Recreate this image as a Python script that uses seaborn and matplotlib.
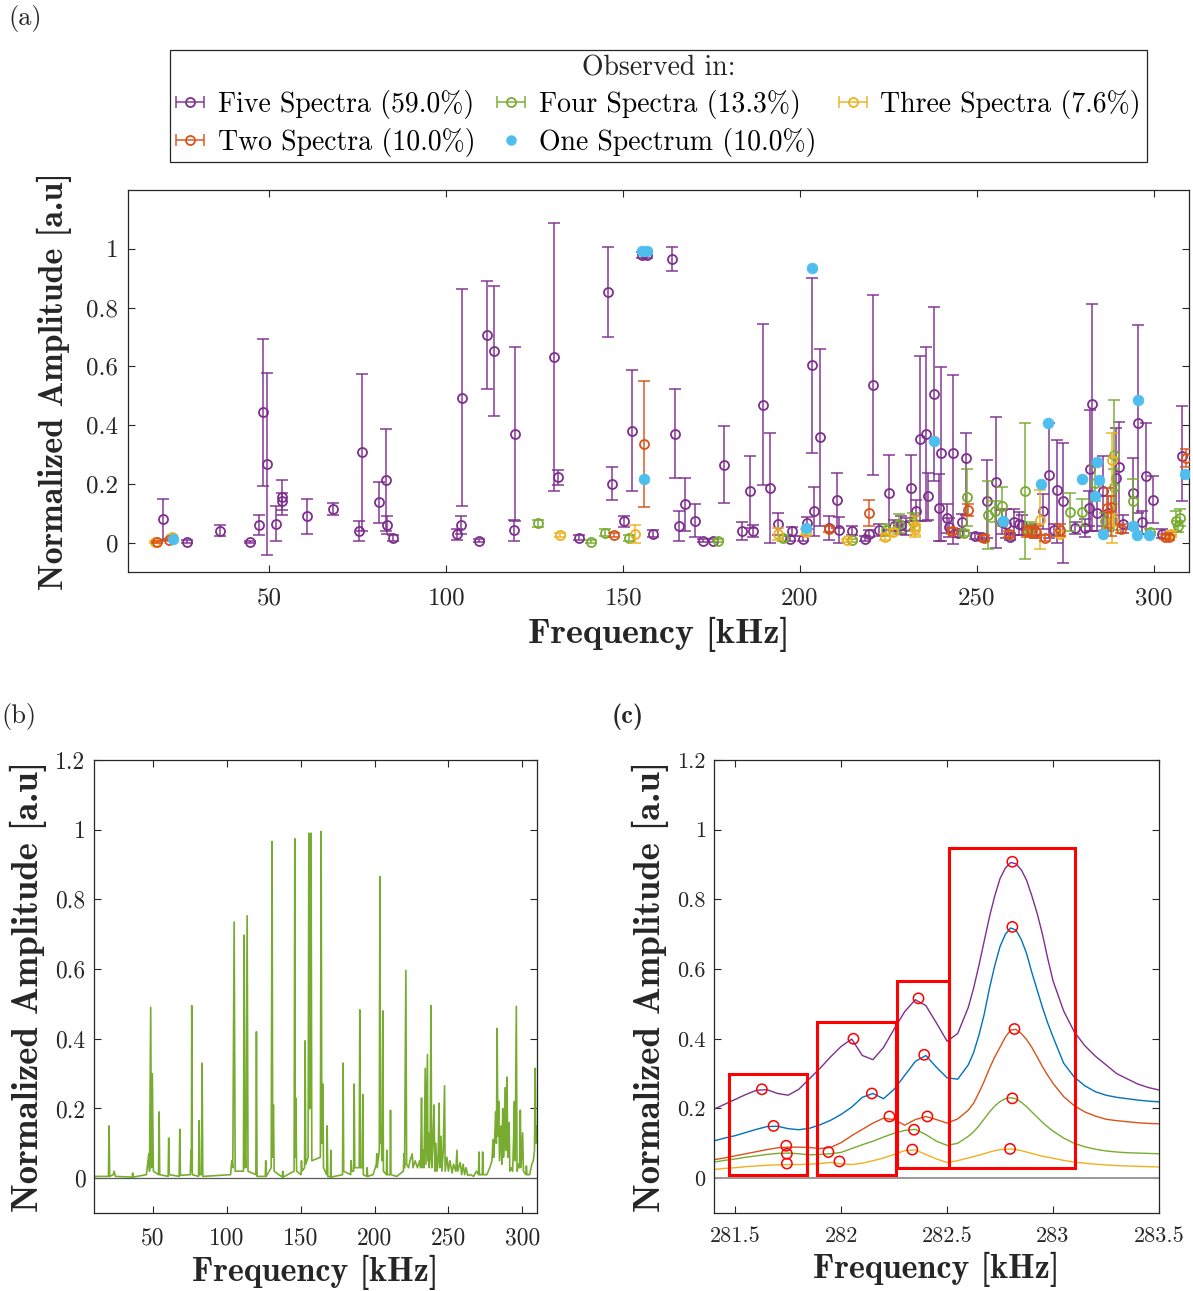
import numpy as np
import pandas as pd
import matplotlib
matplotlib.use("Agg")
import matplotlib.pyplot as plt
import seaborn as sns
from matplotlib.container import ErrorbarContainer
from matplotlib.lines import Line2D
from matplotlib.patches import Rectangle

# ---------------- DATA : panel (a) ----------------
# Five spectra (purple)
five_f = [20.0, 26.6, 36.0, 44.5, 47.1, 48.2, 49.2, 51.9, 53.6, 53.6, 60.7, 68.1, 75.3, 76.1, 80.9, 83.0,
          83.3, 84.9, 103.0, 104.2, 104.3, 109.2, 111.5, 113.4, 119.5, 119.1, 130.4, 131.5, 137.6, 145.7,
          146.8, 150.2, 152.6, 155.2, 156.8, 158.5, 163.7, 164.8, 165.8, 167.5, 170.2, 172.6, 175.5, 178.4,
          183.7, 185.8, 186.8, 189.6, 191.5, 193.7, 197.1, 197.7, 200.9, 202.1, 203.5, 204.0, 205.6, 208.1,
          210.6, 211.0, 214.8, 218.4, 219.4, 220.7, 222.4, 225.1, 226.7, 228.6, 230.1, 231.4, 232.7, 234.0,
          235.6, 236.1, 237.9, 239.2, 239.8, 241.6, 242.1, 243.2, 244.8, 245.7, 247.0, 249.6, 251.5, 252.9,
          255.5, 257.0, 258.2, 259.3, 260.5, 261.8, 262.7, 266.5, 268.8, 270.3, 271.7, 272.8, 274.3, 277.8,
          280.5, 281.6, 282.1, 282.5, 284.1, 285.8, 287.2, 289.4, 290.1, 291.3, 294.1, 295.5, 296.6, 297.8,
          299.7, 302.3, 308.0]
five_a = [0.080, 0.003, 0.041, 0.002, 0.060, 0.444, 0.267, 0.064, 0.154, 0.140, 0.089, 0.115, 0.040, 0.307, 0.137, 0.213,
          0.060, 0.017, 0.028, 0.060, 0.493, 0.006, 0.706, 0.652, 0.368, 0.042, 0.631, 0.222, 0.017, 0.853,
          0.201, 0.072, 0.381, 0.980, 0.980, 0.031, 0.966, 0.371, 0.057, 0.131, 0.075, 0.007, 0.007, 0.265,
          0.040, 0.174, 0.040, 0.470, 0.185, 0.064, 0.013, 0.038, 0.013, 0.066, 0.605, 0.106, 0.358, 0.050,
          0.146, 0.043, 0.040, 0.013, 0.030, 0.535, 0.043, 0.168, 0.058, 0.060, 0.055, 0.187, 0.106, 0.354,
          0.368, 0.157, 0.505, 0.119, 0.304, 0.083, 0.052, 0.304, 0.032, 0.069, 0.288, 0.024, 0.020, 0.140,
          0.205, 0.070, 0.065, 0.020, 0.070, 0.065, 0.060, 0.040, 0.106, 0.229, 0.043, 0.180, 0.140, 0.049,
          0.050, 0.117, 0.251, 0.472, 0.100, 0.176, 0.100, 0.219, 0.259, 0.063, 0.168, 0.407, 0.069, 0.228,
          0.146, 0.030, 0.296]
five_lo = [0.070, 0.005, 0.020, 0.004, 0.035, 0.250, 0.309, 0.057, 0.060, 0.030, 0.060, 0.020, 0.035, 0.269, 0.070, 0.175,
           0.030, 0.010, 0.020, 0.030, 0.370, 0.005, 0.182, 0.222, 0.296, 0.035, 0.455, 0.025, 0.008, 0.153,
           0.055, 0.020, 0.207, 0.010, 0.010, 0.012, 0.040, 0.151, 0.050, 0.090, 0.055, 0.006, 0.006, 0.131,
           0.030, 0.125, 0.020, 0.275, 0.187, 0.038, 0.008, 0.015, 0.008, 0.020, 0.300, 0.083, 0.301, 0.040,
           0.097, 0.045, 0.015, 0.008, 0.012, 0.305, 0.020, 0.125, 0.020, 0.030, 0.030, 0.115, 0.034, 0.282,
           0.296, 0.080, 0.297, 0.113, 0.298, 0.050, 0.033, 0.310, 0.012, 0.030, 0.194, 0.010, 0.010, 0.125,
           0.224, 0.040, 0.050, 0.012, 0.045, 0.040, 0.035, 0.025, 0.060, 0.212, 0.020, 0.180, 0.208, 0.020,
           0.030, 0.060, 0.213, 0.434, 0.060, 0.120, 0.060, 0.160, 0.200, 0.030, 0.120, 0.307, 0.040, 0.200,
           0.080, 0.015, 0.155]
five_hi = [0.068, 0.005, 0.020, 0.004, 0.035, 0.250, 0.310, 0.059, 0.060, 0.030, 0.060, 0.020, 0.035, 0.267, 0.070, 0.174,
           0.030, 0.010, 0.020, 0.030, 0.371, 0.005, 0.185, 0.222, 0.299, 0.035, 0.455, 0.025, 0.008, 0.154,
           0.055, 0.020, 0.206, 0.010, 0.010, 0.012, 0.040, 0.153, 0.050, 0.090, 0.055, 0.006, 0.006, 0.133,
           0.030, 0.120, 0.020, 0.275, 0.188, 0.038, 0.008, 0.015, 0.008, 0.020, 0.297, 0.083, 0.302, 0.040,
           0.091, 0.045, 0.015, 0.008, 0.012, 0.306, 0.020, 0.130, 0.020, 0.030, 0.030, 0.111, 0.040, 0.281,
           0.297, 0.080, 0.297, 0.114, 0.293, 0.050, 0.033, 0.266, 0.012, 0.030, 0.085, 0.010, 0.010, 0.142,
           0.224, 0.040, 0.050, 0.012, 0.045, 0.040, 0.035, 0.025, 0.060, 0.178, 0.020, 0.170, 0.199, 0.020,
           0.030, 0.060, 0.200, 0.339, 0.060, 0.120, 0.060, 0.170, 0.150, 0.030, 0.120, 0.334, 0.040, 0.180,
           0.080, 0.015, 0.170]

# Four spectra (green)
four_f = [125.9, 140.8, 144.9, 151.7, 176.9, 195.2, 214.6, 224.4, 228.0, 232.0, 246.4, 247.3, 253.2, 255.2,
          257.1, 263.6, 265.0, 276.3, 279.8, 283.5, 286.3, 288.7, 288.8, 294.3, 299.0, 306.3, 306.9, 307.5]
four_a = [0.066, 0.003, 0.034, 0.015, 0.007, 0.017, 0.008, 0.043, 0.063, 0.070, 0.032, 0.155, 0.094, 0.106,
          0.123, 0.174, 0.050, 0.103, 0.103, 0.203, 0.072, 0.299, 0.190, 0.140, 0.035, 0.072, 0.055, 0.085]
four_lo = [0.012, 0.006, 0.012, 0.010, 0.006, 0.010, 0.006, 0.020, 0.030, 0.030, 0.010, 0.100, 0.117, 0.035,
           0.065, 0.230, 0.020, 0.065, 0.045, 0.060, 0.030, 0.256, 0.060, 0.077, 0.010, 0.035, 0.020, 0.030]
four_hi = [0.012, 0.006, 0.012, 0.010, 0.006, 0.010, 0.006, 0.020, 0.033, 0.030, 0.010, 0.095, 0.114, 0.035,
           0.065, 0.233, 0.020, 0.065, 0.045, 0.060, 0.030, 0.188, 0.060, 0.077, 0.010, 0.035, 0.020, 0.030]

# Three spectra (yellow)
three_f = [17.5, 22.5, 132.1, 153.3, 193.9, 201.6, 213.3, 224.1, 226.2, 232.4, 232.5, 268.0, 273.6, 288.2, 288.5, 304.9]
three_a = [0.003, 0.020, 0.026, 0.029, 0.029, 0.035, 0.008, 0.020, 0.035, 0.055, 0.045, 0.077, 0.030, 0.282, 0.077, 0.030]
three_lo = [0.004, 0.005, 0.008, 0.030, 0.020, 0.010, 0.006, 0.010, 0.010, 0.035, 0.020, 0.100, 0.010, 0.284, 0.020, 0.010]
three_hi = [0.004, 0.005, 0.008, 0.030, 0.020, 0.010, 0.006, 0.010, 0.010, 0.035, 0.020, 0.103, 0.010, 0.091, 0.020, 0.010]

# Two spectra (red)
two_f = [18.3, 21.5, 147.4, 155.9, 208.1, 219.4, 243.0, 247.5, 252.1, 259.0, 264.2, 265.6, 266.8, 269.3,
         273.6, 286.8, 287.9, 290.7, 303.3, 304.4, 309.1]
two_a = [0.002, 0.010, 0.026, 0.336, 0.045, 0.100, 0.040, 0.111, 0.017, 0.030, 0.038, 0.038, 0.035, 0.017,
         0.042, 0.117, 0.122, 0.047, 0.020, 0.018, 0.288]
two_lo = [0.004, 0.004, 0.008, 0.216, 0.010, 0.045, 0.010, 0.020, 0.010, 0.010, 0.020, 0.020, 0.020, 0.010,
          0.020, 0.068, 0.100, 0.015, 0.008, 0.008, 0.032]
two_hi = [0.004, 0.004, 0.008, 0.214, 0.010, 0.045, 0.010, 0.020, 0.010, 0.010, 0.020, 0.020, 0.020, 0.010,
          0.020, 0.068, 0.035, 0.015, 0.008, 0.008, 0.032]

# One spectrum (light blue, no error bar)
one_f = [22.6, 155.2, 156.8, 155.9, 201.6, 203.5, 238.0, 257.3, 268.2, 270.0, 279.8, 283.5, 284.0, 284.5,
         285.8, 294.3, 295.5, 295.2, 298.8, 309.0]
one_a = [0.013, 0.991, 0.991, 0.216, 0.049, 0.934, 0.347, 0.074, 0.199, 0.408, 0.216, 0.157, 0.275, 0.212,
         0.030, 0.055, 0.487, 0.026, 0.026, 0.233]

legend_labels = ["Five Spectra (59.0%)", "Four Spectra (13.3%)", "Three Spectra (7.6%)",
                 "Two Spectra (10.0%)", "One Spectrum (10.0%)"]
legend_title = "Observed in:"

# ---------------- DATA : panel (b) spectrum vertices ----------------
spec_f = [10, 19.8, 20.2, 20.6, 23.0, 23.6, 24.5, 35.8, 36.2, 36.6, 45.5, 47.1, 47.6, 48.4, 48.9, 49.5, 50.2,
          53.7, 54.1, 54.5, 60.2, 60.6, 61.0, 67.7, 68.1, 68.5, 75.2, 75.7, 75.95, 76.2, 76.6, 80.8, 81.2, 81.6,
          82.8, 83.2, 83.7, 102.5, 103.3, 104.0, 104.9, 105.6, 111.2, 111.7, 112.1, 112.4, 112.9, 113.7, 114.3,
          119.6, 120.0, 120.4, 126.0, 126.3, 126.6, 130.0, 130.6, 131.0, 131.5, 132.0, 137.5, 137.8, 138.1,
          145.5, 146.0, 146.3, 146.7, 147.2, 150.2, 150.5, 150.8, 152.6, 153.0, 153.4, 155.0, 155.5, 156.0,
          156.5, 157.0, 157.5, 163.3, 163.8, 164.3, 165.0, 165.4, 167.6, 167.9, 168.3, 170.1, 170.4, 170.7,
          178.3, 178.7, 179.1, 183.8, 184.1, 184.5, 185.8, 186.2, 186.6, 189.6, 190.0, 190.4, 191.6, 192.0,
          192.4, 194.7, 195.0, 195.3, 199.0, 201.2, 201.5, 201.8, 203.2, 203.6, 204.0, 204.5, 205.0, 205.6,
          206.0, 208.0, 208.3, 208.6, 210.5, 210.8, 211.1, 215.0, 219.5, 219.9, 220.3, 221.2, 221.7, 223.0,
          224.0, 225.5, 226.0, 227.5, 229.0, 230.5, 231.2, 231.8, 232.3, 233.0, 233.5, 234.3, 234.8, 235.8,
          236.1, 236.5, 236.9, 237.6, 238.2, 238.7, 239.5, 240.3, 240.8, 241.5, 242.2, 243.0, 243.7, 244.1,
          245.0, 245.6, 246.5, 247.4, 247.8, 249.0, 250.0, 251.0, 252.5, 253.5, 255.0, 255.8, 256.3, 257.0,
          258.0, 259.0, 260.0, 261.0, 262.0, 263.0, 265.0, 267.0, 269.0, 270.4, 270.7, 271.0, 272.9, 273.2,
          273.5, 276.0, 278.0, 279.5, 280.2, 280.7, 281.5, 282.0, 282.5, 283.0, 283.5, 284.1, 284.6, 285.5,
          286.2, 286.8, 287.3, 288.0, 288.6, 289.1, 289.7, 290.2, 291.1, 291.6, 292.5, 293.5, 294.2, 294.7,
          295.2, 296.0, 296.5, 297.5, 298.2, 298.7, 299.2, 300.3, 300.8, 302.5, 302.8, 303.2, 305.0, 306.5,
          307.5, 308.3, 308.8, 309.2, 309.5, 310.0]
spec_a = [0.005, 0.005, 0.15, 0.005, 0.01, 0.02, 0.005, 0.003, 0.015, 0.003, 0.01, 0.07, 0.02, 0.49, 0.03, 0.30, 0.02,
          0.01, 0.19, 0.01, 0.005, 0.115, 0.01, 0.005, 0.14, 0.008, 0.01, 0.08, 0.02, 0.495, 0.01, 0.005, 0.165, 0.01,
          0.01, 0.33, 0.005, 0.01, 0.05, 0.03, 0.735, 0.02, 0.02, 0.697, 0.03, 0.06, 0.03, 0.753, 0.02,
          0.01, 0.42, 0.005, 0.005, 0.05, 0.005, 0.03, 0.966, 0.06, 0.21, 0.02, 0.003, 0.02, 0.003,
          0.02, 0.974, 0.06, 0.23, 0.02, 0.01, 0.05, 0.02, 0.03, 0.394, 0.04, 0.06, 0.99, 0.2,
          0.2, 0.99, 0.05, 0.06, 0.995, 0.1, 0.27, 0.03, 0.01, 0.15, 0.005, 0.003, 0.08, 0.003,
          0.01, 0.33, 0.02, 0.01, 0.05, 0.02, 0.02, 0.27, 0.03, 0.03, 0.483, 0.03, 0.03, 0.24,
          0.01, 0.005, 0.03, 0.005, 0.01, 0.04, 0.07, 0.03, 0.08, 0.865, 0.1, 0.15, 0.05, 0.48,
          0.02, 0.01, 0.08, 0.01, 0.01, 0.195, 0.01, 0.005, 0.02, 0.07, 0.03, 0.596, 0.04, 0.03,
          0.05, 0.07, 0.03, 0.05, 0.03, 0.05, 0.03, 0.23, 0.03, 0.08, 0.03, 0.315, 0.04, 0.355,
          0.05, 0.13, 0.03, 0.06, 0.495, 0.03, 0.10, 0.21, 0.02, 0.10, 0.02, 0.05, 0.215, 0.03,
          0.12, 0.02, 0.08, 0.265, 0.02, 0.06, 0.02, 0.05, 0.015, 0.04, 0.02, 0.08, 0.02, 0.03,
          0.045, 0.01, 0.04, 0.01, 0.03, 0.008, 0.01, 0.005, 0.02, 0.01, 0.075, 0.01, 0.01, 0.075,
          0.01, 0.01, 0.03, 0.05, 0.11, 0.06, 0.13, 0.19, 0.10, 0.43, 0.12, 0.22, 0.05, 0.15,
          0.04, 0.20, 0.06, 0.12, 0.26, 0.08, 0.29, 0.06, 0.16, 0.02, 0.03, 0.02, 0.12, 0.22,
          0.05, 0.493, 0.02, 0.04, 0.03, 0.195, 0.03, 0.13, 0.02, 0.01, 0.035, 0.01, 0.01, 0.04,
          0.05, 0.08, 0.315, 0.10, 0.15, 0.12]

# ---------------- DATA : panel (c) ----------------
c_freq = [281.40, 281.45, 281.50, 281.55, 281.60, 281.65, 281.70, 281.75, 281.80, 281.85, 281.90, 281.95,
          282.00, 282.05, 282.10, 282.15, 282.20, 282.25, 282.30, 282.35, 282.40, 282.45, 282.50, 282.55,
          282.60, 282.625, 282.65, 282.675, 282.70, 282.725, 282.75, 282.775, 282.80, 282.825, 282.85,
          282.875, 282.90, 282.925, 282.95, 282.975, 283.00, 283.05, 283.10, 283.15,
          283.20, 283.25, 283.30, 283.35, 283.40, 283.45, 283.50]
c_purple = [0.198, 0.212, 0.226, 0.240, 0.252, 0.254, 0.243, 0.238, 0.255, 0.285, 0.315, 0.348,
            0.378, 0.399, 0.352, 0.340, 0.375, 0.428, 0.478, 0.512, 0.495, 0.445, 0.393, 0.415,
            0.490, 0.545, 0.610, 0.680, 0.750, 0.810, 0.860, 0.890, 0.906, 0.902, 0.885,
            0.855, 0.810, 0.760, 0.700, 0.630, 0.566, 0.480, 0.420, 0.380,
            0.350, 0.325, 0.300, 0.285, 0.270, 0.260, 0.253]
c_blue = [0.107, 0.115, 0.122, 0.131, 0.140, 0.148, 0.149, 0.142, 0.139, 0.143, 0.153, 0.166,
          0.183, 0.204, 0.232, 0.243, 0.228, 0.255, 0.295, 0.335, 0.352, 0.318, 0.288, 0.284,
          0.325, 0.360, 0.410, 0.470, 0.545, 0.610, 0.665, 0.700, 0.718, 0.712, 0.685,
          0.645, 0.590, 0.540, 0.490, 0.445, 0.405, 0.330, 0.290, 0.265,
          0.248, 0.238, 0.232, 0.228, 0.224, 0.221, 0.219]
c_red = [0.053, 0.058, 0.064, 0.070, 0.076, 0.082, 0.087, 0.089, 0.089, 0.088, 0.085, 0.088,
         0.102, 0.122, 0.140, 0.158, 0.172, 0.168, 0.152, 0.168, 0.177, 0.168, 0.158, 0.170,
         0.195, 0.215, 0.245, 0.278, 0.315, 0.348, 0.376, 0.405, 0.425, 0.427, 0.415,
         0.398, 0.375, 0.348, 0.320, 0.295, 0.272, 0.234, 0.208, 0.190,
         0.178, 0.169, 0.165, 0.162, 0.159, 0.157, 0.156]
c_green = [0.046, 0.051, 0.055, 0.060, 0.064, 0.068, 0.071, 0.072, 0.070, 0.067, 0.068, 0.070,
           0.074, 0.085, 0.096, 0.106, 0.118, 0.129, 0.137, 0.140, 0.125, 0.106, 0.094, 0.100,
           0.120, 0.133, 0.150, 0.170, 0.190, 0.207, 0.220, 0.228, 0.231, 0.228, 0.218,
           0.205, 0.190, 0.175, 0.160, 0.147, 0.135, 0.115, 0.100, 0.090,
           0.083, 0.078, 0.075, 0.073, 0.072, 0.071, 0.070]
c_yellow = [0.025, 0.028, 0.030, 0.033, 0.035, 0.037, 0.038, 0.039, 0.039, 0.040, 0.042, 0.045,
            0.041, 0.039, 0.043, 0.050, 0.058, 0.068, 0.079, 0.081, 0.068, 0.055, 0.045, 0.050,
            0.058, 0.062, 0.066, 0.070, 0.075, 0.079, 0.082, 0.083, 0.084, 0.082, 0.079,
            0.075, 0.071, 0.067, 0.063, 0.060, 0.057, 0.051, 0.046, 0.043,
            0.040, 0.038, 0.036, 0.035, 0.034, 0.033, 0.032]
peak_f = [281.626, 281.681, 281.741, 281.744, 281.744, 281.940, 281.992, 282.058, 282.145, 282.228,
          282.344, 282.336, 282.365, 282.392, 282.407, 282.808, 282.808, 282.818, 282.808, 282.797]
peak_a = [0.255, 0.150, 0.093, 0.070, 0.042, 0.075, 0.048, 0.400, 0.243, 0.177,
          0.139, 0.082, 0.516, 0.354, 0.177, 0.908, 0.721, 0.428, 0.229, 0.084]
# boxes: (f_start, f_end, a_bottom, a_top)
box_f0 = [281.469, 281.888, 282.263, 282.511]
box_f1 = [281.838, 282.259, 282.511, 283.105]
box_a0 = [0.008, 0.008, 0.028, 0.028]
box_a1 = [0.300, 0.449, 0.566, 0.948]

# ticks
a_xticks = [50, 100, 150, 200, 250, 300]
a_yticks = [0, 0.2, 0.4, 0.6, 0.8, 1]
a_yticklabels = ["0", "0.2", "0.4", "0.6", "0.8", "1"]
bc_yticks = [0, 0.2, 0.4, 0.6, 0.8, 1, 1.2]
bc_yticklabels = ["0", "0.2", "0.4", "0.6", "0.8", "1", "1.2"]
b_xticks = [50, 100, 150, 200, 250, 300]
c_xticks = [281.5, 282, 282.5, 283, 283.5]
c_xticklabels = ["281.5", "282", "282.5", "283", "283.5"]

# ---------------- STYLE ----------------
PURPLE = "#7E2F8E"
GREEN = "#77AC30"
YELLOW = "#EDB120"
RED = "#D95319"
LBLUE = "#4DBEEE"
BLUE = "#0072BD"
EDGE = "#262626"

sns.set_theme(style="ticks")
plt.rcParams.update({
    "font.family": ["cmr10", "DejaVu Serif"],
    "axes.formatter.use_mathtext": True,
    "axes.unicode_minus": False,
    "xtick.direction": "in", "ytick.direction": "in",
    "xtick.top": True, "ytick.right": True,
    "axes.edgecolor": EDGE, "axes.linewidth": 0.9,
    "xtick.color": EDGE, "ytick.color": EDGE,
    "xtick.labelcolor": EDGE, "ytick.labelcolor": EDGE,
    "xtick.major.size": 5, "ytick.major.size": 5,
    "xtick.major.width": 0.8, "ytick.major.width": 0.8,
})

W, H = 11.93, 12.91
fig = plt.figure(figsize=(W, H), dpi=100)
axA = fig.add_axes([128 / 1193, 1 - 572 / 1291, (1189 - 128) / 1193, (572 - 190) / 1291])
axB = fig.add_axes([94 / 1193, 1 - 1213 / 1291, (537 - 94) / 1193, (1213 - 760) / 1291])
axC = fig.add_axes([714 / 1193, 1 - 1213 / 1291, (1159 - 714) / 1193, (1213 - 760) / 1291])

LABEL_B = dict(family="cmb10", color=EDGE)

# ---------------- PANEL (a) ----------------
def draw_err(ax, f, a, lo, hi, color, z):
    c = ax.errorbar(f, a, yerr=[lo, hi], fmt="o", ms=6.5, mfc="none", mec=color, mew=1.3,
                    ecolor=color, elinewidth=1.3, capsize=4.5, capthick=1.3, zorder=z)
    for b in c[2]:
        b.set_alpha(0.8)
    for cl in c[1]:
        cl.set_alpha(0.8)
    return c

cont_five = draw_err(axA, five_f, five_a, five_lo, five_hi, PURPLE, 2)
cont_four = draw_err(axA, four_f, four_a, four_lo, four_hi, GREEN, 3)
cont_three = draw_err(axA, three_f, three_a, three_lo, three_hi, YELLOW, 4)
cont_two = draw_err(axA, two_f, two_a, two_lo, two_hi, RED, 5)
df_one = pd.DataFrame({"f": one_f, "a": one_a})
sns.scatterplot(data=df_one, x="f", y="a", ax=axA, color=LBLUE, s=60, edgecolor=LBLUE,
                linewidth=0.5, zorder=6, legend=False)

axA.set_xlim(10, 310)
axA.set_ylim(-0.1, 1.2)
axA.set_xticks(a_xticks)
axA.set_xticklabels([str(t) for t in a_xticks])
axA.set_yticks(a_yticks)
axA.set_yticklabels(a_yticklabels)
axA.tick_params(labelsize=18, pad=7)
axA.tick_params(axis="x", pad=11)
axA.set_xlabel("Frequency [kHz]", fontsize=26, labelpad=5, **LABEL_B)
axA.set_ylabel("Normalized Amplitude [a.u]", fontsize=24.5, labelpad=10, **LABEL_B)

def as_xerr(c, lab):
    return ErrorbarContainer(c.lines, has_xerr=True, has_yerr=False, label=lab)

h_five = as_xerr(cont_five, legend_labels[0])
h_four = as_xerr(cont_four, legend_labels[1])
h_three = as_xerr(cont_three, legend_labels[2])
h_two = as_xerr(cont_two, legend_labels[3])
h_one = Line2D([], [], marker="o", linestyle="none", color=LBLUE, mec=LBLUE, ms=6.5)

handles = [h_five, h_two, h_four, h_one, h_three]
labels = [legend_labels[0], legend_labels[3], legend_labels[1], legend_labels[4], legend_labels[2]]
leg = fig.legend(handles, labels, loc="upper center", bbox_to_anchor=(658.5 / 1193, 1 - 50 / 1291),
                 ncol=3, fontsize=20, title=legend_title, title_fontsize=20, frameon=True,
                 fancybox=False, edgecolor=EDGE, framealpha=1, handlelength=1.0, handletextpad=0.5,
                 columnspacing=0.8, borderpad=0.2, labelspacing=0.3, borderaxespad=0)
leg.get_frame().set_linewidth(0.9)
for t in leg.get_texts():
    t.set_color("black")

# ---------------- PANEL (b) ----------------
df_spec = pd.DataFrame({"f": spec_f, "a": spec_a})
axB.axhline(0, color="0.35", lw=0.9, zorder=1)
sns.lineplot(data=df_spec, x="f", y="a", ax=axB, color=GREEN, lw=1.2, sort=False,
             estimator=None, zorder=2)
axB.set_xlim(10, 310)
axB.set_ylim(-0.1, 1.2)
axB.set_xticks(b_xticks)
axB.set_xticklabels([str(t) for t in b_xticks])
axB.set_yticks(bc_yticks)
axB.set_yticklabels(bc_yticklabels)
axB.tick_params(labelsize=17, pad=6)
axB.tick_params(axis="x", pad=10)
axB.set_xlabel("Frequency [kHz]", fontsize=24.5, labelpad=4, **LABEL_B)
axB.set_ylabel("Normalized Amplitude [a.u]", fontsize=26.5, labelpad=6, **LABEL_B)

# ---------------- PANEL (c) ----------------
axC.axhline(0, color="0.6", lw=1.4, zorder=1)
curves = [(c_purple, PURPLE), (c_blue, BLUE), (c_red, RED), (c_green, GREEN), (c_yellow, YELLOW)]
for vals, col in curves:
    dfc = pd.DataFrame({"f": c_freq, "a": vals})
    sns.lineplot(data=dfc, x="f", y="a", ax=axC, color=col, lw=1.0, sort=False, estimator=None, zorder=2)
for f0, f1, a0, a1 in zip(box_f0, box_f1, box_a0, box_a1):
    axC.add_patch(Rectangle((f0, a0), f1 - f0, a1 - a0, fill=False, edgecolor="#FF0000", lw=2.2, zorder=4))
df_pk = pd.DataFrame({"f": peak_f, "a": peak_a})
sns.scatterplot(data=df_pk, x="f", y="a", ax=axC, marker="o", s=55, facecolor="none",
                edgecolor="#FF0000", linewidth=1.1, zorder=5, legend=False)
axC.set_xlim(281.4, 283.5)
axC.set_ylim(-0.1, 1.2)
axC.set_xticks(c_xticks)
axC.set_xticklabels(c_xticklabels)
axC.set_yticks(bc_yticks)
axC.set_yticklabels(bc_yticklabels)
axC.tick_params(labelsize=16, pad=6)
axC.tick_params(axis="x", pad=10)
axC.set_xlabel("Frequency [kHz]", fontsize=24.5, labelpad=4, **LABEL_B)
axC.set_ylabel("Normalized Amplitude [a.u]", fontsize=26.5, labelpad=6, **LABEL_B)

# panel letters
fig.text(8 / 1193, 1 - 18 / 1291, "(a)", fontsize=19, va="center", ha="left")
fig.text(1 / 1193, 1 - 717 / 1291, "(b)", fontsize=19, va="center", ha="left")
fig.text(612 / 1193, 1 - 717 / 1291, "(c)", fontsize=19, va="center", ha="left", family="cmb10")

# legend title separator
fig.canvas.draw()
fr = leg.get_frame().get_window_extent()
tb = leg.get_title().get_window_extent()
first_row = leg.get_texts()[0].get_window_extent()
ysep = 0.5 * (tb.y0 + first_row.y1)
figw, figh = fig.bbox.width, fig.bbox.height
fig.add_artist(Line2D([fr.x0 / figw, fr.x1 / figw], [ysep / figh, ysep / figh],
                      transform=fig.transFigure, color=EDGE, lw=0.9))

fig.savefig("out.png", dpi=100)
